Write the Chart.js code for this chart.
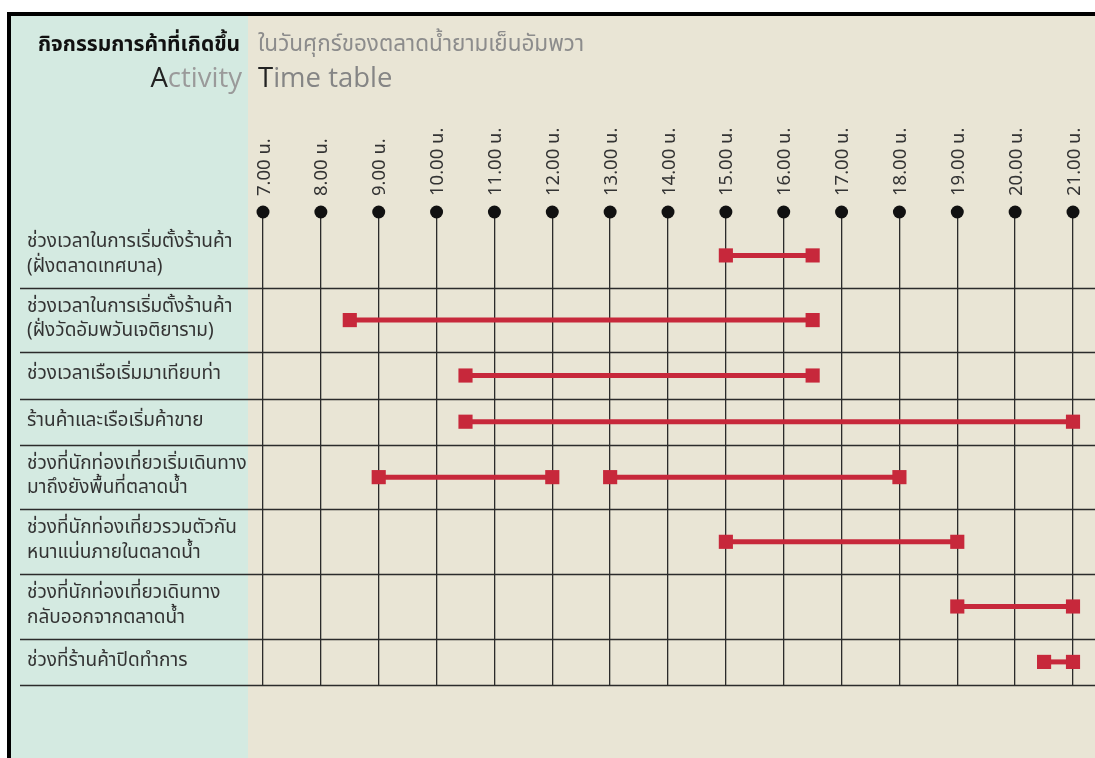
<!DOCTYPE html>
<html>
<head>
<meta charset="utf-8">
<script src="https://cdn.jsdelivr.net/npm/chart.js@4"></script>
<style>
  html, body { margin: 0; padding: 0; background: #fff; }
  canvas { display: block; }
</style>
</head>
<body>
<canvas id="chart" width="1095" height="758"></canvas>
<script>
// hours on the time axis
const hours = [7, 8, 9, 10, 11, 12, 13, 14, 15, 16, 17, 18, 19, 20, 21];
const hourLabels = hours.map(h => h + '.00 น.');

// activity rows (each label may wrap onto two lines)
const rowLabels = [
  ['ช่วงเวลาในการเริ่มตั้งร้านค้า', '(ฝั่งตลาดเทศบาล)'],
  ['ช่วงเวลาในการเริ่มตั้งร้านค้า', '(ฝั่งวัดอัมพวันเจติยาราม)'],
  ['ช่วงเวลาเรือเริ่มมาเทียบท่า'],
  ['ร้านค้าและเรือเริ่มค้าขาย'],
  ['ช่วงที่นักท่องเที่ยวเริ่มเดินทาง', 'มาถึงยังพื้นที่ตลาดน้ำ'],
  ['ช่วงที่นักท่องเที่ยวรวมตัวกัน', 'หนาแน่นภายในตลาดน้ำ'],
  ['ช่วงที่นักท่องเที่ยวเดินทาง', 'กลับออกจากตลาดน้ำ'],
  ['ช่วงที่ร้านค้าปิดทำการ']
];

// time spans: row index, start hour, end hour
const spanRows  = [0,    1,   2,    3,    4,  4,  5,  6,  7];
const spanStart = [15,   8.5, 10.5, 10.5, 9,  13, 15, 19, 20.5];
const spanEnd   = [16.5, 16.5, 16.5, 21,  12, 18, 19, 21, 21];

const RED = '#c7283b';
const THAI = "'Noto Sans Thai', 'Noto Sans Thai Looped', 'Noto Sans', sans-serif";

// row heights: two-line rows are a bit taller
const rowHeights = rowLabels.map(l => l.length > 1 ? 1.4 : 1);
const rowEdges = [0];
rowHeights.forEach(h => rowEdges.push(rowEdges[rowEdges.length - 1] + h));
const rowCenters = rowHeights.map((h, i) => rowEdges[i] + h / 2);
const yTop = -0.24;
const yBottom = rowEdges[rowEdges.length - 1];

const datasets = spanRows.map((r, i) => ({
  data: [{x: spanStart[i], y: rowCenters[r]}, {x: spanEnd[i], y: rowCenters[r]}],
  showLine: true,
  borderColor: RED,
  borderWidth: 5,
  pointStyle: 'rect',
  pointRadius: 10,
  pointBackgroundColor: RED,
  pointBorderWidth: 0,
  clip: false
}));

// black markers on top of each hour line
datasets.push({
  data: hours.map(h => ({x: h, y: yTop})),
  showLine: false,
  pointRadius: 6.5,
  pointBackgroundColor: '#111',
  pointBorderWidth: 0,
  clip: false
});

const backdrop = {
  id: 'backdrop',
  beforeDraw(chart) {
    const ctx = chart.ctx;
    const W = chart.width, H = chart.height;
    ctx.save();
    ctx.fillStyle = '#ffffff';
    ctx.fillRect(0, 0, W, H);
    ctx.fillStyle = '#e9e5d5';
    ctx.fillRect(8, 12, W - 8, H - 12);
    ctx.fillStyle = '#d4eae1';
    ctx.fillRect(8, 12, 240, H - 12);
    ctx.fillStyle = '#000';
    ctx.fillRect(7, 12, W - 7, 4);
    ctx.fillRect(7, 12, 4, H - 12);

    // heading
    ctx.textBaseline = 'alphabetic';
    ctx.textAlign = 'left';
    ctx.font = "bold 21px " + THAI;
    ctx.fillStyle = '#111';
    ctx.fillText('กิจกรรมการค้าที่เกิดขึ้น', 38, 51);
    ctx.font = "22.5px " + THAI;
    ctx.fillStyle = '#8c8c8c';
    ctx.fillText('ในวันศุกร์ของตลาดน้ำยามเย็นอัมพวา', 258, 51);

    ctx.font = "27.5px 'Open Sans', sans-serif";
    const rest = ctx.measureText('ctivity').width;
    ctx.fillStyle = '#9a9a9a';
    ctx.fillText('ctivity', 242 - rest, 87);
    ctx.fillStyle = '#222';
    ctx.textAlign = 'right';
    ctx.fillText('A', 242 - rest, 87);
    ctx.textAlign = 'left';
    ctx.fillText('T', 258, 87);
    const t = ctx.measureText('T').width;
    ctx.fillStyle = '#858585';
    ctx.fillText('ime table', 258 + t, 87);
    ctx.restore();
  },
  beforeDatasetsDraw(chart) {
    const ctx = chart.ctx;
    const y = chart.scales.y;
    ctx.save();
    ctx.strokeStyle = '#2b2b2b';
    ctx.lineWidth = 1.5;
    rowEdges.slice(1).forEach(v => {
      const py = Math.round(y.getPixelForValue(v)) + 0.5;
      ctx.beginPath();
      ctx.moveTo(20, py);
      ctx.lineTo(chart.width, py);
      ctx.stroke();
    });
    ctx.restore();
  }
};

new Chart(document.getElementById('chart'), {
  type: 'scatter',
  data: { datasets },
  plugins: [backdrop],
  options: {
    responsive: false,
    animation: false,
    events: [],
    layout: { padding: { left: 27, right: 22, top: 0, bottom: 73 } },
    plugins: { legend: { display: false }, tooltip: { enabled: false } },
    scales: {
      x: {
        type: 'linear',
        position: 'top',
        min: 7,
        max: 21,
        afterBuildTicks: s => { s.ticks = hours.map(v => ({value: v})); },
        afterFit: s => { s.height = 212; },
        ticks: {
          minRotation: 90,
          maxRotation: 90,
          padding: 16,
          labelOffset: 25,
          color: '#333',
          font: { family: THAI, size: 18.5 },
          callback: (v, i) => hourLabels[i]
        },
        grid: { color: '#2b2b2b', lineWidth: 1.3, drawTicks: false },
        border: { display: false }
      },
      y: {
        type: 'linear',
        reverse: true,
        min: yTop,
        max: yBottom,
        afterBuildTicks: s => { s.ticks = rowCenters.map(v => ({value: v})); },
        afterFit: s => { s.width = 236; },
        ticks: {
          crossAlign: 'far',
          color: '#333',
          font: { family: THAI, size: 19, lineHeight: 1.3 },
          callback: (v, i) => rowLabels[i]
        },
        grid: { display: false },
        border: { display: false }
      }
    }
  }
});
</script>
</body>
</html>
